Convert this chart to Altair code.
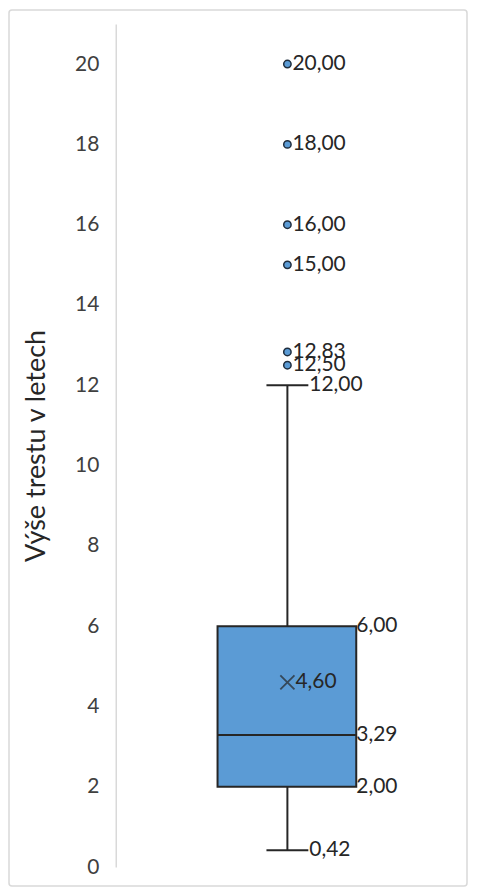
import altair as alt
import pandas as pd

# Box-plot statistics
q1 = 2.00
median = 3.29
q3 = 6.00
whisker_low = 0.42
whisker_high = 12.00
mean = 4.60
outliers = [12.50, 12.83, 15.00, 16.00, 18.00, 20.00]

y_ticks = [0, 2, 4, 6, 8, 10, 12, 14, 16, 18, 20]
y_title = "Výše trestu v letech"

BLUE = "#5B9BD5"
DARK = "#262626"
FONT = "Lato"


def fmt(v):
    return f"{v:.2f}".replace(".", ",")


center = 0.5
box_l, box_r = 0.2965, 0.7006
cap_l, cap_r = 0.439, 0.561

whiskers = pd.DataFrame({"x": [center, center], "y": [whisker_low, q3], "y2": [q1, whisker_high]})
caps = pd.DataFrame({"x": [cap_l, cap_l], "x2": [cap_r, cap_r], "y": [whisker_low, whisker_high]})
box = pd.DataFrame({"x": [box_l], "x2": [box_r], "y": [q1], "y2": [q3]})
med = pd.DataFrame({"x": [box_l], "x2": [box_r], "y": [median]})
mean_df = pd.DataFrame({"x": [center], "y": [mean], "label": [fmt(mean)]})
out_df = pd.DataFrame({"x": [center] * len(outliers), "y": outliers, "label": [fmt(v) for v in outliers]})
cap_lab = pd.DataFrame({"x": [cap_r, cap_r], "y": [whisker_low, whisker_high],
                        "label": [fmt(whisker_low), fmt(whisker_high)]})
box_lab = pd.DataFrame({"x": [box_r] * 3, "y": [q1, median, q3],
                        "label": [fmt(q1), fmt(median), fmt(q3)]})

xs = alt.Scale(domain=[0, 1])
ys = alt.Scale(domain=[0, 21], nice=False, zero=True)

X = lambda f="x": alt.X(f"{f}:Q", scale=xs, axis=None)
Y = alt.Y("y:Q", scale=ys,
          axis=alt.Axis(values=y_ticks, title=y_title, grid=False, ticks=False,
                        domainColor="#d9d9d9", domainWidth=1.5,
                        labelFontSize=21, labelColor="#404040", labelFont=FONT,
                        labelPadding=17,
                        titleFontSize=27, titleFont=FONT, titleFontWeight="normal",
                        titleColor=DARK, titlePadding=24))

border = alt.Chart(pd.DataFrame({"a": [0]})).mark_rect(
    fill="transparent", stroke="#d9d9d9", strokeWidth=1.5, cornerRadius=3, clip=False
).encode(x=alt.value(-107), x2=alt.value(352), y=alt.value(-14), y2=alt.value(864))

w_rule = alt.Chart(whiskers).mark_rule(color=DARK, strokeWidth=2).encode(x=X(), y=Y, y2="y2:Q")
c_rule = alt.Chart(caps).mark_rule(color=DARK, strokeWidth=2).encode(x=X(), x2="x2:Q", y=Y)
box_m = alt.Chart(box).mark_rect(fill=BLUE, stroke=DARK, strokeWidth=2).encode(x=X(), x2="x2:Q", y=Y, y2="y2:Q")
med_m = alt.Chart(med).mark_rule(color=DARK, strokeWidth=2).encode(x=X(), x2="x2:Q", y=Y)
mean_m = alt.Chart(mean_df).mark_point(
    shape="M-1,-1L1,1M-1,1L1,-1", size=200, filled=False, stroke=DARK, strokeWidth=1.8
).encode(x=X(), y=Y)
out_m = alt.Chart(out_df).mark_point(
    shape="circle", size=55, filled=True, fill=BLUE, stroke="#1f2d3d", strokeWidth=1.5, opacity=1
).encode(x=X(), y=Y)

txt = dict(align="left", baseline="middle", fontSize=21, font=FONT, color="#262626")
out_t = alt.Chart(out_df).mark_text(dx=5, **txt).encode(x=X(), y=Y, text="label:N")
mean_t = alt.Chart(mean_df).mark_text(dx=8, **txt).encode(x=X(), y=Y, text="label:N")
cap_t = alt.Chart(cap_lab).mark_text(dx=1, **txt).encode(x=X(), y=Y, text="label:N")
box_t = alt.Chart(box_lab).mark_text(dx=0, **txt).encode(x=X(), y=Y, text="label:N")

chart = alt.layer(
    border, w_rule, c_rule, box_m, med_m, mean_m, out_m, out_t, mean_t, cap_t, box_t
).properties(
    width=344, height=845,
    background="white",
    autosize=alt.AutoSizeParams(type="none"),
    padding={"left": 108, "top": 15, "right": 10, "bottom": 22},
).configure_view(strokeWidth=0, stroke="transparent")

chart.save("out.html", embed_options={"renderer": "svg", "actions": False})
